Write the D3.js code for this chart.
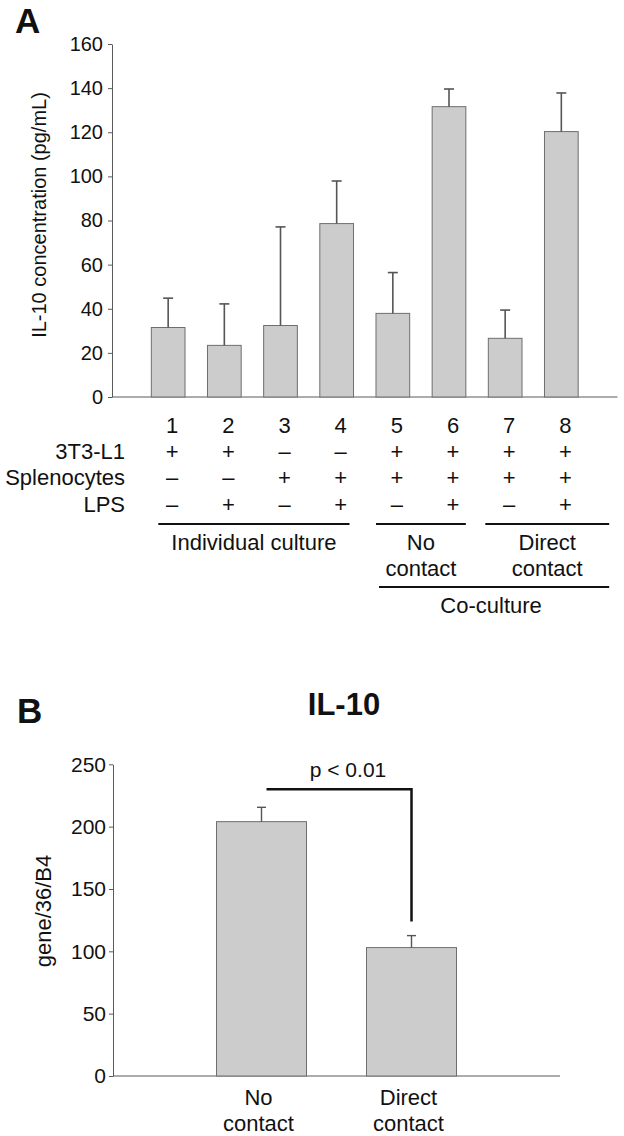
<!DOCTYPE html>
<html>
<head>
<meta charset="utf-8">
<script src="https://cdn.jsdelivr.net/npm/d3@7"></script>
<style>
  html, body { margin: 0; padding: 0; background: #fff; }
  svg { display: block; }
  text { font-family: "Liberation Sans", Arial, sans-serif; fill: #111; }
</style>
</head>
<body>
<svg id="chart" width="624" height="1136"></svg>
<script>
// ---------- Data: panel A ----------
const lanes = ["1", "2", "3", "4", "5", "6", "7", "8"];
const concMean = [31.5, 23.4, 32.4, 78.6, 37.9, 131.6, 26.6, 120.3];
const concErr = [13.3, 18.8, 44.7, 19.3, 18.5, 8.0, 12.8, 17.5];
const yTicksA = [0, 20, 40, 60, 80, 100, 120, 140, 160];
const rowLabels = ["3T3-L1", "Splenocytes", "LPS"];
const row3T3 = ["+", "+", "\u2013", "\u2013", "+", "+", "+", "+"];
const rowSplenocytes = ["\u2013", "\u2013", "+", "+", "+", "+", "+", "+"];
const rowLPS = ["\u2013", "+", "\u2013", "+", "\u2013", "+", "\u2013", "+"];
const groupLabels = [["Individual culture"], ["No", "contact"], ["Direct", "contact"]];
const groupFrom = [0, 4, 6];
const groupTo = [3, 5, 7];
const superLabel = "Co-culture";
const yTitleA = "IL-10 concentration (pg/mL)";

// ---------- Data: panel B ----------
const catsB = [["No", "contact"], ["Direct", "contact"]];
const meanB = [204, 103];
const errB = [11.5, 9.6];
const yTicksB = [0, 50, 100, 150, 200, 250];
const titleB = "IL-10";
const yTitleB = "gene/36/B4";
const sigLabel = "p < 0.01";
const bracketTop = 230;
const bracketBottom = 124;

const svg = d3.select("#chart");
const barFill = "#cccccc", barStroke = "#6e6e6e", axisColor = "#5a5a5a", errColor = "#555";

// ================= Panel A =================
const xA = d3.scaleBand().domain(lanes).range([112, 617.5]).paddingInner(0.4).paddingOuter(0.7);
const yA = d3.scaleLinear().domain([0, 160]).range([397, 44]);
const gA = svg.append("g");

gA.append("text").attr("x", 15).attr("y", 33).style("font-size", "35px").style("font-weight", "bold").text("A");

const axA = gA.append("g").attr("transform", "translate(112,0)")
  .call(d3.axisLeft(yA).tickValues(yTicksA).tickSize(4).tickPadding(5).tickSizeOuter(0));
axA.select(".domain").attr("stroke", axisColor);
axA.selectAll(".tick line").attr("stroke", axisColor);
axA.selectAll(".tick text").style("font-size", "20px").style("font-family", "Liberation Sans, Arial, sans-serif").attr("fill", "#111");

const axAx = gA.append("g").attr("transform", "translate(0,397)")
  .call(d3.axisBottom(xA).tickValues([]).tickSizeOuter(0));
axAx.select(".domain").attr("stroke", axisColor).attr("d", "M112,0H617.5");

gA.append("text").attr("transform", "translate(46,215) rotate(-90)")
  .attr("text-anchor", "middle").style("font-size", "20px").text(yTitleA);

// bars
gA.selectAll("rect.bar").data(lanes).enter().append("rect")
  .attr("x", d => xA(d)).attr("width", xA.bandwidth())
  .attr("y", (d, i) => yA(concMean[i])).attr("height", (d, i) => yA(0) - yA(concMean[i]))
  .attr("fill", barFill).attr("stroke", barStroke).attr("stroke-width", 1);

// error bars (upper only)
const capA = 5;
lanes.forEach((d, i) => {
  const cx = xA(d) + xA.bandwidth() / 2;
  gA.append("line").attr("x1", cx).attr("x2", cx)
    .attr("y1", yA(concMean[i])).attr("y2", yA(concMean[i] + concErr[i]))
    .attr("stroke", errColor).attr("stroke-width", 1.6);
  gA.append("line").attr("x1", cx - capA).attr("x2", cx + capA)
    .attr("y1", yA(concMean[i] + concErr[i])).attr("y2", yA(concMean[i] + concErr[i]))
    .attr("stroke", errColor).attr("stroke-width", 1.6);
});

// table below
const colX = d => xA(d) + xA.bandwidth() / 2 + 4;
const rowY = [425, 451, 477.5, 504];
gA.selectAll("text.lane").data(lanes).enter().append("text")
  .attr("x", d => colX(d)).attr("y", rowY[0]).attr("dy", "0.36em")
  .attr("text-anchor", "middle").style("font-size", "22px").text(d => d);
const rows = [row3T3, rowSplenocytes, rowLPS];
rowLabels.forEach((lab, r) => {
  gA.append("text").attr("x", 125).attr("y", rowY[r + 1]).attr("dy", "0.36em")
    .attr("text-anchor", "end").style("font-size", "22px").text(lab);
  lanes.forEach((d, i) => {
    gA.append("text").attr("x", colX(d)).attr("y", rowY[r + 1]).attr("dy", "0.36em")
      .attr("text-anchor", "middle").style("font-size", "22px").text(rows[r][i]);
  });
});

// group lines
const bw = xA.bandwidth();
const lineL = [xA(lanes[groupFrom[0]]) + 7, xA(lanes[groupFrom[1]]), xA(lanes[groupFrom[2]]) - 3];
const lineR = [xA(lanes[groupTo[0]]) + bw - 4, xA(lanes[groupTo[1]]) + bw, xA(lanes[groupTo[2]]) + bw + 31];
const lineY = 524;
groupLabels.forEach((lab, gi) => {
  gA.append("line").attr("x1", lineL[gi]).attr("x2", lineR[gi]).attr("y1", lineY).attr("y2", lineY)
    .attr("stroke", "#111").attr("stroke-width", 2.2);
  const cx = (lineL[gi] + lineR[gi]) / 2;
  lab.forEach((t, k) => {
    gA.append("text").attr("x", cx).attr("y", 542 + k * 26.5).attr("dy", "0.36em")
      .attr("text-anchor", "middle").style("font-size", "22px").text(t);
  });
});
const supL = xA(lanes[4]) + 3, supR = lineR[2];
gA.append("line").attr("x1", supL).attr("x2", supR).attr("y1", 587).attr("y2", 587)
  .attr("stroke", "#111").attr("stroke-width", 2.2);
gA.append("text").attr("x", (supL + supR) / 2 - 3).attr("y", 605).attr("dy", "0.36em")
  .attr("text-anchor", "middle").style("font-size", "22px").text(superLabel);

// ================= Panel B =================
const catKeys = catsB.map(c => c.join(" "));
const xB = d3.scaleBand().domain(catKeys).range([113, 560]).paddingInner(0.4).paddingOuter(0.69);
const yB = d3.scaleLinear().domain([0, 250]).range([1076, 764.3]);
const gB = svg.append("g");

gB.append("text").attr("x", 17).attr("y", 723).style("font-size", "35px").style("font-weight", "bold").text("B");
gB.append("text").attr("x", 344).attr("y", 715).attr("text-anchor", "middle")
  .style("font-size", "31px").style("font-weight", "bold").text(titleB);

const axB = gB.append("g").attr("transform", "translate(113,0)")
  .call(d3.axisLeft(yB).tickValues(yTicksB).tickSize(4).tickPadding(3).tickSizeOuter(0));
axB.select(".domain").attr("stroke", axisColor);
axB.selectAll(".tick line").attr("stroke", axisColor);
axB.selectAll(".tick text").style("font-size", "21px").style("font-family", "Liberation Sans, Arial, sans-serif").attr("fill", "#111");

const axBx = gB.append("g").attr("transform", "translate(0,1076)")
  .call(d3.axisBottom(xB).tickValues([]).tickSizeOuter(0));
axBx.select(".domain").attr("stroke", axisColor).attr("d", "M113,0H560");

gB.append("text").attr("transform", "translate(51,911) rotate(-90)")
  .attr("text-anchor", "middle").style("font-size", "22px").text(yTitleB);

gB.selectAll("rect.bar").data(catKeys).enter().append("rect")
  .attr("x", d => xB(d)).attr("width", xB.bandwidth())
  .attr("y", (d, i) => yB(meanB[i])).attr("height", (d, i) => yB(0) - yB(meanB[i]))
  .attr("fill", barFill).attr("stroke", barStroke).attr("stroke-width", 1);

const capB = 4.5;
catKeys.forEach((d, i) => {
  const cx = xB(d) + xB.bandwidth() / 2;
  gB.append("line").attr("x1", cx).attr("x2", cx)
    .attr("y1", yB(meanB[i])).attr("y2", yB(meanB[i] + errB[i]))
    .attr("stroke", errColor).attr("stroke-width", 1.4);
  gB.append("line").attr("x1", cx - capB).attr("x2", cx + capB)
    .attr("y1", yB(meanB[i] + errB[i])).attr("y2", yB(meanB[i] + errB[i]))
    .attr("stroke", errColor).attr("stroke-width", 1.4);
  catsB[i].forEach((t, k) => {
    gB.append("text").attr("x", cx - 3).attr("y", 1097 + k * 26.5).attr("dy", "0.36em")
      .attr("text-anchor", "middle").style("font-size", "22px").text(t);
  });
});

// significance bracket
const bx1 = xB(catKeys[0]) + xB.bandwidth() / 2 + 5;
const bx2 = xB(catKeys[1]) + xB.bandwidth() / 2;
gB.append("path")
  .attr("d", `M${bx1},${yB(bracketTop)}H${bx2}V${yB(bracketBottom)}`)
  .attr("fill", "none").attr("stroke", "#111").attr("stroke-width", 2.5);
gB.append("text").attr("x", 348).attr("y", 777).attr("text-anchor", "middle")
  .style("font-size", "21px").text(sigLabel);
</script>
</body>
</html>
